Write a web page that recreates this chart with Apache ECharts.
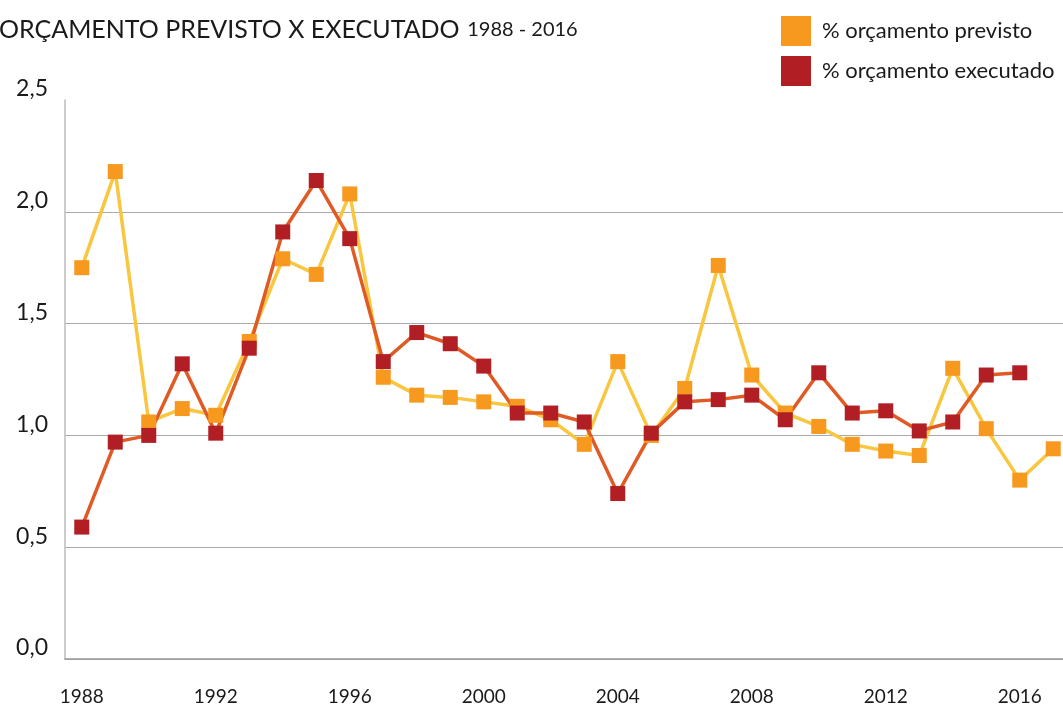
<!DOCTYPE html>
<html>
<head>
<meta charset="utf-8">
<script src="https://cdn.jsdelivr.net/npm/echarts@6/dist/echarts.min.js"></script>
<style>
  html, body { margin: 0; padding: 0; background: #fff; }
  #chart { width: 1063px; height: 706px; }
</style>
</head>
<body>
<div id="chart"></div>
<script>
var years = ['1988', '1989', '1990', '1991', '1992', '1993', '1994', '1995', '1996', '1997',
    '1998', '1999', '2000', '2001', '2002', '2003', '2004', '2005', '2006', '2007',
    '2008', '2009', '2010', '2011', '2012', '2013', '2014', '2015', '2016', '2017'];

var previsto = [1.75, 2.18, 1.06, 1.12, 1.09, 1.42, 1.79, 1.72, 2.08, 1.26,
    1.18, 1.17, 1.15, 1.13, 1.07, 0.96, 1.33, 1.00, 1.21, 1.76,
    1.27, 1.10, 1.04, 0.96, 0.93, 0.91, 1.30, 1.03, 0.80, 0.94];

var executado = [0.59, 0.97, 1.00, 1.32, 1.01, 1.39, 1.91, 2.14, 1.88, 1.33,
    1.46, 1.41, 1.31, 1.10, 1.10, 1.06, 0.74, 1.01, 1.15, 1.16,
    1.18, 1.07, 1.28, 1.10, 1.11, 1.02, 1.06, 1.27, 1.28, null];

var font = 'Lato';

var myChart = echarts.init(document.getElementById('chart'));

myChart.setOption({
    animation: false,
    textStyle: { fontFamily: font },
    title: {
        text: '{a|ORÇAMENTO PREVISTO X EXECUTADO} {b|1988 - 2016}',
        left: -6,
        top: 12,
        textStyle: {
            fontWeight: 'normal',
            rich: {
                a: { fontFamily: font, fontSize: 25, fontWeight: 'normal', color: '#1a1a1a' },
                b: { fontFamily: font, fontSize: 20, fontWeight: 'normal', color: '#1a1a1a', padding: [0, 0, 0, 3] }
            }
        }
    },
    legend: {
        orient: 'vertical',
        left: 781,
        top: 16,
        padding: 0,
        itemWidth: 30,
        itemHeight: 30,
        itemGap: 10,
        icon: 'rect',
        textStyle: { fontSize: 22, color: '#1a1a1a', fontFamily: font, padding: [0, 0, 0, 6] },
        data: ['% orçamento previsto', '% orçamento executado']
    },
    grid: {
        left: 65,
        top: 100,
        bottom: 47,
        right: -7,
        outerBoundsMode: 'none'
    },
    xAxis: {
        type: 'category',
        data: years,
        boundaryGap: true,
        axisLine: { lineStyle: { color: '#999', width: 1.5 } },
        axisTick: { show: false },
        axisLabel: {
            interval: 3,
            margin: 28,
            fontSize: 19,
            color: '#1a1a1a'
        }
    },
    yAxis: {
        type: 'value',
        min: 0,
        max: 2.5,
        interval: 0.5,
        axisLine: { show: true, lineStyle: { color: '#bbb', width: 1.5 } },
        axisTick: { show: false },
        splitLine: {
            lineStyle: {
                color: ['#aaa', '#aaa', '#aaa', '#aaa', '#aaa', 'rgba(0,0,0,0)'],
                width: 1.2
            }
        },
        axisLabel: {
            margin: 17,
            fontSize: 23,
            color: '#1a1a1a',
            verticalAlign: 'bottom',
            lineHeight: 22,
            formatter: function (v) { return v.toFixed(1).replace('.', ','); }
        }
    },
    series: [
        {
            name: '% orçamento previsto',
            type: 'line',
            data: previsto,
            symbol: 'rect',
            symbolSize: 15,
            itemStyle: { color: '#F7991F' },
            lineStyle: { color: '#F8C63F', width: 3.5 }
        },
        {
            name: '% orçamento executado',
            type: 'line',
            data: executado,
            symbol: 'rect',
            symbolSize: 15,
            itemStyle: { color: '#B11F24' },
            lineStyle: { color: '#E05A26', width: 3.5 }
        }
    ]
});
</script>
</body>
</html>
